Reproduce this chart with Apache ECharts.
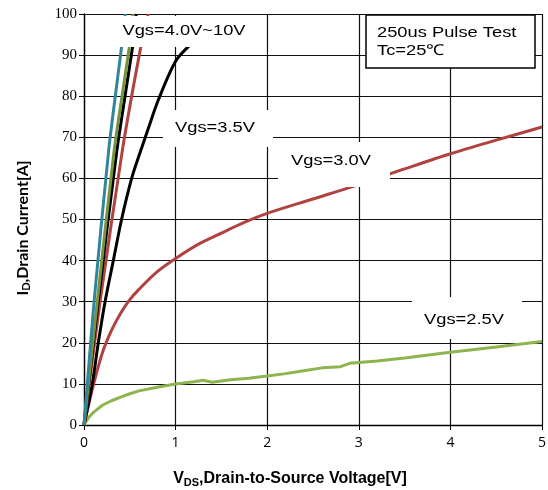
<!DOCTYPE html>
<html><head><meta charset="utf-8">
<script src="https://cdn.jsdelivr.net/npm/echarts@6/dist/echarts.min.js"></script>
<style>html,body{margin:0;padding:0;background:#fff}#c{width:548px;height:490px}</style>
</head><body><div id="c"></div>
<script>
// Axis ranges
const xRange = [0, 5];
const yRange = [0, 100];

// Vgs = 2.5 V
const vgs25 = [[0,0],[0.05,1.8],[0.1,3],[0.2,4.8],[0.3,5.9],[0.4,6.8],[0.5,7.6],[0.6,8.3],[0.8,9.2],[1.0,10],[1.2,10.5],[1.3,10.9],[1.4,10.4],[1.6,11],[1.8,11.4],[2.0,11.9],[2.2,12.5],[2.4,13.2],[2.6,13.9],[2.8,14.2],[2.9,15],[3.2,15.6],[3.5,16.3],[4.0,17.7],[4.5,19],[5,20.3]];
// Vgs = 3.0 V
const vgs30 = [[0,0],[0.1,9.5],[0.2,17.5],[0.3,23],[0.4,27.2],[0.5,30.5],[0.6,33],[0.8,37.3],[1.0,40.5],[1.25,44],[1.5,46.7],[1.75,49.3],[2.0,51.5],[2.5,55],[3.0,58.5],[3.5,62.3],[4.0,66],[4.5,69.3],[5,72.5]];
// Vgs = 3.5 V
const vgs35 = [[0,0],[0.09,10],[0.156,20],[0.23,30],[0.32,40],[0.41,50],[0.52,60],[0.6,65.5],[0.7,72],[0.81,79],[1.0,88.5],[1.16,92.5],[1.4,97]];
// Vgs = 4.0 V ~ 10 V
const vgsA = [[0,0],[0.175,30],[0.42,67],[0.62,92],[0.70,100]];
const vgsB = [[0,0],[0.155,30],[0.36,67],[0.53,92],[0.57,100]];
const vgsC = [[0,0],[0.145,30],[0.33,67],[0.495,92],[0.535,100]];
const vgsD = [[0,0],[0.11,30],[0.27,67],[0.41,92],[0.45,100]];

const chart = echarts.init(document.getElementById('c'));
function ser(name, data, color, smooth) {
  return {name, type:'line', data, showSymbol:false, symbol:'none', smooth: smooth, lineStyle:{color, width:3}, itemStyle:{color}, z:3};
}
const F = '15px "Liberation Sans"';
function txt(x, y, t, align) {
  return {type:'text', x:x, y:y, scaleX:1.22, style:{text:t, font:F, fill:'#000', textAlign:align || 'center', textVerticalAlign:'middle'}, z:101};
}
chart.setOption({
  animation:false,
  backgroundColor:'#fff',
  grid:{left:84, right:6, top:14, bottom:65, containLabel:false, outerBoundsMode:'none'},
  xAxis:{type:'value', min:xRange[0], max:xRange[1], interval:1,
    axisLine:{lineStyle:{color:'#000', width:1.3}},
    axisTick:{show:true, length:5, lineStyle:{color:'#000'}},
    axisLabel:{color:'#000', fontFamily:'Open Sans', fontSize:14, margin:11},
    splitLine:{show:true, lineStyle:{color:'#111', width:1.2}},
    name:'{b|V}{s|DS}{b|,Drain-to-Source Voltage[V]}', nameLocation:'middle', nameGap:45,
    nameTextStyle:{padding:[0,46,0,0], rich:{b:{fontFamily:'Liberation Sans', fontWeight:'bold', fontSize:16, color:'#000'}, s:{fontFamily:'Liberation Sans', fontWeight:'bold', fontSize:11, color:'#000', padding:[7,0,0,0]}}}
  },
  yAxis:{type:'value', min:yRange[0], max:yRange[1], interval:10,
    axisLine:{lineStyle:{color:'#000', width:1.3}},
    axisTick:{show:true, length:5, lineStyle:{color:'#000'}},
    axisLabel:{color:'#000', fontFamily:'Liberation Serif', fontSize:15, margin:7},
    splitLine:{show:true, lineStyle:{color:'#111', width:1.2}},
    name:'{b|I}{s|D}{b|,Drain Current[A]}', nameLocation:'middle', nameGap:52,
    nameTextStyle:{padding:[0,17,0,0], rich:{b:{fontFamily:'Lato', fontWeight:'bold', fontSize:16, color:'#000'}, s:{fontFamily:'Lato', fontWeight:'bold', fontSize:11, color:'#000', padding:[7,0,0,0]}}}
  },
  series:[
    ser('Vgs=2.5V', vgs25, '#8DB44F', false),
    ser('Vgs=3.0V', vgs30, '#B0423F', 0.3),
    ser('Vgs=3.5V', vgs35, '#000000', 0.3),
    ser('Vgs=4.0V', vgsA, '#B0423F', 0.2),
    ser('Vgs=4.5V', vgsB, '#000000', 0.2),
    ser('Vgs=6V', vgsC, '#77933C', 0.2),
    ser('Vgs=10V', vgsD, '#31869B', 0.2)
  ],
  graphic:[
    {type:'rect', shape:{x:100, y:16, width:166, height:31}, style:{fill:'#fff'}, z:100},
    txt(184, 31, 'Vgs=4.0V~10V'),
    {type:'rect', shape:{x:163, y:110, width:110, height:37}, style:{fill:'#fff'}, z:100},
    txt(215, 128, 'Vgs=3.5V'),
    {type:'rect', shape:{x:278, y:142, width:112, height:45}, style:{fill:'#fff'}, z:100},
    txt(331, 161, 'Vgs=3.0V'),
    {type:'rect', shape:{x:412, y:297, width:110, height:42}, style:{fill:'#fff'}, z:100},
    txt(464, 320, 'Vgs=2.5V'),
    {type:'rect', shape:{x:366, y:15, width:169, height:53}, style:{fill:'#fff', stroke:'#000', lineWidth:1.5}, z:100},
    txt(377, 33, '250us Pulse Test', 'left'),
    txt(377, 51, 'Tc=25℃', 'left')
  ]
});
</script>
</body></html>
